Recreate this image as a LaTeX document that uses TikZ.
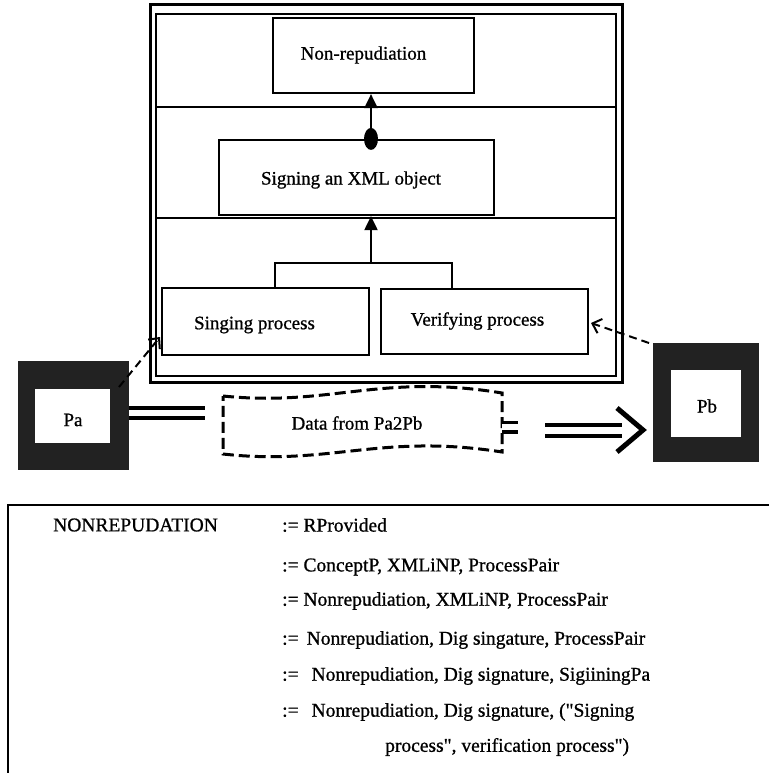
\documentclass[tikz,border=0pt]{standalone}
\usepackage{fontspec}
\setmainfont[FakeBold=0.9]{Liberation Serif}
\usetikzlibrary{arrows.meta}
\definecolor{partyfill}{HTML}{222222}
% straight double quote, set as a glyph so that no text mapping curls it
\newcommand\straightdq{\XeTeXglyph\XeTeXcharglyph"22\relax}
\tikzset{
  frameline/.style={draw=black, line width=2.6pt},
  box/.style={draw=black, line width=2.2pt, fill=white, inner sep=0pt},
  lbl/.style={font=\fontsize{19}{21}\selectfont, inner sep=0pt},
  conn/.style={draw=black, line width=2pt},
  solidhead/.style={-{Triangle[length=14pt,width=13pt]}},
  openhead/.style={-{Straight Barb[length=8pt,width=15pt,line width=2pt]}},
  dashconn/.style={draw=black, line width=2pt, dash pattern=on 8pt off 5pt},
  party/.style={fill=partyfill, draw=none, inner sep=0pt},
  partyin/.style={fill=white, draw=none, inner sep=0pt},
  rule/.style={font=\fontsize{19.5}{21}\selectfont, inner sep=0pt, anchor=west},
}
\begin{document}
\begin{tikzpicture}[x=1pt,y=-1pt]
\useasboundingbox[fill=white] (0,0) rectangle (769,773);

% layered frame
\draw[frameline, line width=3pt] (150,5) rectangle (622,382);
\draw[frameline] (156,14) rectangle (616,376);
\draw[frameline] (156,107) -- (616,107);
\draw[frameline] (156,218) -- (616,218);

% concept boxes
\node[box, minimum width=201pt, minimum height=75pt] (nonrep) at (373.5,55.5) {};
\node[lbl] (nonreptxt) at (363.5,55) {Non-repudiation};
\node[box, minimum width=275pt, minimum height=75pt] (signing) at (356.5,177.5) {};
\node[lbl] (signingtxt) at (351,180) {Signing an XML object};
\node[box, minimum width=207pt, minimum height=67pt] (sing) at (265.5,321.5) {};
\node[lbl] (singtxt) at (254.5,325) {Singing process};
\node[box, minimum width=207pt, minimum height=65pt] (ver) at (484.5,321.5) {};
\node[lbl] (vertxt) at (477.5,321) {Verifying process};

% hierarchy links
\coordinate (jt) at (371,263);
\coordinate (tl) at (275,263);
\coordinate (tr) at (452,263);
\draw[conn] (tl |- sing.north) -- (tl) -- (tr) -- (tr |- ver.north);
\draw[conn, solidhead] (jt) -- (jt |- signing.south);
\draw[conn, solidhead] (jt |- signing.north) -- (jt |- nonrep.south);
\fill (jt |- signing.north) ellipse [x radius=7, y radius=11];

% parties
\node[party, minimum width=111pt, minimum height=109pt] (pa) at (73.5,415.5) {};
\node[partyin, minimum width=75pt, minimum height=54pt] (pain) at (72.5,416) {};
\node[lbl] (patxt) at (73,420) {Pa};
\node[party, minimum width=106pt, minimum height=119pt] (pb) at (706,402.5) {};
\node[partyin, minimum width=70pt, minimum height=67pt] (pbin) at (706,403.5) {};
\node[lbl] (pbtxt) at (707,406) {Pb};

% dashed links from the parties to the processes
\coordinate (pafrom) at (119,387);
\coordinate (pato) at (160,337);
\draw[dashconn, openhead] (pafrom) -- (pato);
\coordinate (pbfrom) at (649,343);
\coordinate (pbto) at (591,323);
\draw[dashconn, openhead] (pbfrom) -- (pbto);

% data in transit
\draw[draw=black, line width=3pt, dash pattern=on 11pt off 5pt]
  (223,396) .. controls (330,407) and (380,373) .. (502,393)
  -- (502,452)
  .. controls (380,433) and (330,466) .. (223,454) -- cycle;
\node[lbl] (data) at (357,423) {Data from Pa2Pb};
\coordinate (dataright) at (502,427);
\coordinate (dataleft) at (205,413);

% transfer lines
\draw[draw=black, line width=3.5pt, double, double distance=6.5pt] (pa.east |- dataleft) -- (dataleft);
\draw[draw=black, line width=3.5pt, double, double distance=6pt] (dataright) -- ++(16,0) coordinate (stub);
\coordinate (arrstart) at (545,430.5);
\coordinate (arrtip) at (643,430);
\draw[draw=black, line width=4.5pt, double, double distance=6.5pt] (arrstart) -- (622,430.5);
\draw[draw=black, line width=5pt, line join=miter] (617,408) -- (arrtip) -- (617,452);

% grammar panel
\draw[draw=black, line width=2pt] (769,505) -- (8,505) -- (8,773);
\node[rule] (lhs) at (53,525) {NONREPUDATION};
\node[rule] (r1) at (282,525) {:= RProvided};
\node[rule] (r2) at (282,567) {:= ConceptP, XMLiNP, ProcessPair};
\node[rule] (r3) at (282,601) {:= Nonrepudiation, XMLiNP, ProcessPair};
\node[rule] (r4) at (282,640) {:= \,Nonrepudiation, Dig singature, ProcessPair};
\node[rule] (r5) at (282,676) {:= \ \,Nonrepudiation, Dig signature, SigiiningPa};
\node[rule] (r6) at (282,712) {:= \ \,Nonrepudiation, Dig signature, (\straightdq Signing};
\node[rule] (r7) at (385,747) {process\straightdq, verification process\straightdq)};
\end{tikzpicture}
\end{document}
